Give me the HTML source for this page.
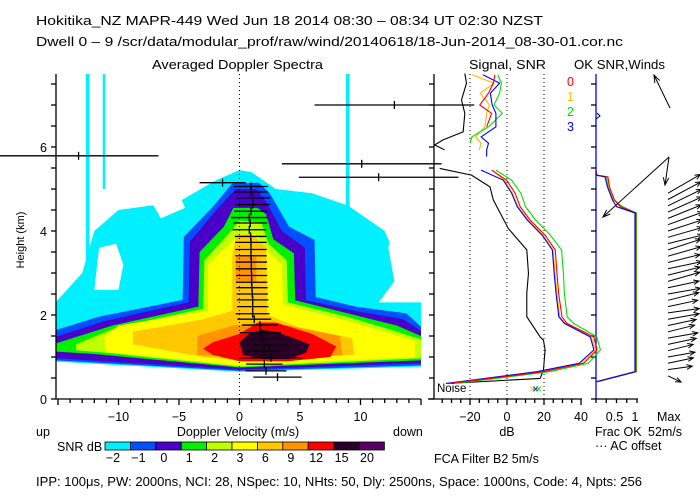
<!DOCTYPE html>
<html><head><meta charset="utf-8">
<style>
html,body{margin:0;padding:0;background:#fff;}
svg{display:block;font-family:"Liberation Sans",sans-serif;}
text{font-size:12.5px;fill:#000;}
</style></head>
<body>
<svg id="c" width="700" height="500" viewBox="0 0 700 500">
<defs><clipPath id="mainClip"><rect x="56" y="74" width="378" height="325"/></clipPath>
<clipPath id="p3Clip"><rect x="596" y="60" width="104" height="340"/></clipPath></defs>
<text x="36" y="25" textLength="507" lengthAdjust="spacingAndGlyphs">Hokitika_NZ   MAPR-449   Wed Jun 18 2014 08:30 – 08:34 UT 02:30 NZST</text>
<text x="36" y="46" textLength="587" lengthAdjust="spacingAndGlyphs">Dwell  0 –  9   /scr/data/modular_prof/raw/wind/20140618/18-Jun-2014_08-30-01.cor.nc</text>
<text x="152" y="69" textLength="171" lengthAdjust="spacingAndGlyphs">Averaged Doppler Spectra</text>
<text x="469" y="69" textLength="77" lengthAdjust="spacingAndGlyphs">Signal, SNR</text>
<text x="574" y="69" textLength="91" lengthAdjust="spacingAndGlyphs">OK  SNR,Winds</text>
<text x="567" y="86" style="fill:#f00">0</text>
<text x="567" y="101" style="fill:#fb0">1</text>
<text x="567" y="116" style="fill:#0d0">2</text>
<text x="567" y="131" style="fill:#00f">3</text>
<g id="heat" clip-path="url(#mainClip)"></g>
<g id="marks"></g>
<text transform="translate(24,240) rotate(-90)" text-anchor="middle" style="font-size:11px">Height (km)</text>
<text x="36" y="436">up</text>
<text x="238" y="436" text-anchor="middle">Doppler Velocity (m/s)</text>
<text x="393" y="436">down</text>
<text x="507" y="436" text-anchor="middle">dB</text>
<text x="595" y="436">Frac OK</text>
<text x="595" y="450">··· AC offset</text>
<text x="657" y="421">Max</text>
<text x="648" y="436">52m/s</text>
<text x="57" y="451">SNR dB</text>
<text x="434" y="463">FCA Filter B2   5m/s</text>
<text x="36" y="486" textLength="606" lengthAdjust="spacingAndGlyphs">IPP: 100μs,  PW: 2000ns,  NCI:  28,  NSpec: 10, NHts: 50,  Dly: 2500ns,  Space: 1000ns,  Code: 4,  Npts: 256</text>
</svg>
<script>
// ---- data ----
const cbColors = ['#00f0ff','#0050ff','#4a00c8','#00f000','#c0ff00','#ffff00','#ffc800','#ff9400','#ff0000','#2a0028','#5a0064'];
const cbLabels = ['−2','−1','0','1','2','3','6','9','12','15','20'];
const xTickLabels = [-10,-5,0,5,10];
const yTickLabels = [0,2,4,6];
const dbTickLabels = [-20,0,20,40];
const fracTickLabels = [0.5,1];
// heatmap contour polygons [velocity, height]
const lvlCyan = [[-15.2,0.89],[0,0.65],[15,0.77],[15,2.4],[13.5,3.0],[12,4.0],[9,4.6],[6,4.9],[3,5.0],[1,5.4],[0,5.45],[-2,5.2],[-5,4.7],[-10,4.5],[-12,4.0],[-13,3.0],[-15.2,2.3]];
const holeA = [[-12,2.6],[-10,2.6],[-9.6,3.2],[-10.2,3.7],[-11.6,3.6]];
const holeB = [[-15.2,2.3],[-13.5,2.9],[-12.8,3.8],[-12.5,4.6],[-15.2,4.6]];
const holeC = [[11.5,2.3],[15.2,2.3],[15.2,4.6],[13,4.6],[12.3,3.6],[12.8,2.8]];
const holeD = [[-6.5,4.3],[-4.5,4.55],[-5,4.9],[-7.5,4.8]];
const lvlBlue = [[-15.2,0.92],[0,0.67],[15,0.8],[15,1.72],[13.8,2.04],[9.6,2.2],[6.3,2.43],[6.2,3.79],[4.1,4.1],[2.5,4.9],[1.6,5.15],[-0.6,5.13],[-2.2,4.58],[-4.6,3.86],[-4.7,2.36],[-11.6,1.96],[-15.2,1.64]];
const lvlPurple = [[-15.2,0.97],[0,0.7],[15,0.85],[15,1.62],[13.5,1.9],[9.5,2.1],[5.5,2.35],[5.4,3.6],[3.5,4.0],[2.2,4.7],[1.4,5.0],[-0.3,5.0],[-1.9,4.5],[-4.1,3.75],[-4.2,2.3],[-11.2,1.85],[-15.2,1.48]];
const lvlGreen = [[-15.2,1.13],[-12,1.07],[0,0.75],[15,0.92],[15,1.5],[13,1.75],[9.5,2.0],[4.6,2.35],[4.5,3.47],[2.8,3.8],[2.2,4.4],[1.5,4.55],[-0.5,4.55],[-1.3,4.1],[-3.3,3.5],[-3.4,2.2],[-10.5,1.75],[-15.2,1.32]];
const lvlLime = [[-13.5,1.16],[-11,1.1],[0,0.77],[15,0.97],[15,1.42],[12.5,1.65],[9,1.95],[4.0,2.3],[3.9,3.3],[2.4,3.7],[1.8,4.2],[0,4.25],[-1.0,3.9],[-2.9,3.3],[-3.0,2.15],[-10,1.72],[-13.5,1.3]];
const lvlYellow = [[-11,1.12],[0,0.8],[14.5,1.0],[14.5,1.38],[12,1.6],[9,1.85],[3.6,2.25],[3.5,3.2],[2,3.6],[1.3,3.94],[0,3.94],[-0.8,3.7],[-2.6,3.2],[-2.6,2.1],[-10,1.75],[-11.2,1.45]];
const lvlGold = [[-8.8,1.3],[-3,1.0],[0,0.92],[9.5,1.05],[9.3,1.45],[5,1.7],[2.3,2.0],[2.2,3.6],[1,3.94],[-0.3,3.9],[-0.6,3.4],[-0.6,2.1],[-3,1.9],[-8.8,1.6]];
const lvlOrange = [[-3.5,1.05],[2,0.95],[8.5,1.05],[8.3,1.5],[4,1.75],[1.5,1.8],[-0.5,1.75],[-3.5,1.5]];
const lvlOrange2 = [[-0.3,3.4],[1.4,3.4],[1.4,2.8],[-0.3,2.8]];
const lvlRed = [[-2.2,1.35],[-3,1.2],[-2.2,1.05],[0,0.9],[4,0.9],[7.5,1.0],[8,1.25],[6,1.55],[3,1.82],[1.5,1.82],[0,1.55]];
const lvlDark = [[0,1.35],[0.3,1.05],[2,0.95],[4,0.95],[5.5,1.1],[5.8,1.3],[4.5,1.45],[3,1.6],[1.8,1.65],[0.8,1.55]];
// cyan noise stripes [vLeft, vRight, hBottom, hTop]
const stripes = [[-12.7,-12.4,2.0,7.75],[-11.3,-11.1,5.0,7.75],[8.8,9.1,2.25,7.75]];
// error bars: height, center velocity, half width (m/s)
const ebH = [7.0,5.79,5.6,5.28,5.15,5.06,4.93,4.79,4.63,4.47,4.32,4.19,4.03,3.87,3.73,3.56,3.41,3.26,3.1,2.94,2.78,2.65,2.5,2.36,2.2,2.03,1.9,1.76,1.58,1.42,1.28,1.14,0.98,0.83,0.67,0.52];
const ebV = [12.8,-13.3,10.1,11.5,-1.4,0.95,0.95,1.14,1.09,0.95,0.81,0.89,0.81,0.92,0.95,0.95,0.95,0.98,0.98,1.0,1.0,1.03,1.06,1.09,1.09,1.09,1.22,1.7,1.72,1.92,2.47,2.05,2.6,2.05,2.19,3.14];
const ebW = [6.6,6.6,6.6,6.6,1.9,1.4,1.4,1.4,1.4,1.4,1.5,1.4,1.4,1.3,1.3,1.3,1.3,1.3,1.3,1.3,1.3,1.3,1.3,1.3,1.3,1.4,1.4,1.5,1.7,1.5,1.7,1.5,2.6,1.5,1.7,2.0];
// signal panel
const sigTopH = [7.75,7.52,7.12,6.8,6.36,6.17,6.05,5.93];
const sigTopDB = [-22.8,-21.9,-24.6,-22.8,-23.7,-34.6,-39.1,-33.7];
const sigH = [5.49,5.33,5.05,4.74,4.06,3.55,2.99,2.52,1.96,1.48,1.4,1.17,0.69,0.49,0.37];
const sigDB = [-36.4,-19.2,-9.2,-7.4,0.7,10.7,11.6,10.7,10.7,17.9,19.7,20.6,19.7,17.9,-31.9];
const snrH = [5.45,5.21,4.9,4.58,4.26,3.9,3.55,2.99,2.52,1.96,1.8,1.48,1.17,0.85,0.65,0.41,0.37];
const snr0 = [-8.3,-0.2,4.4,7.1,12.5,20.6,26.1,27,27.9,29.7,32.4,46.9,48.7,41.4,19.7,-23.7,-31];
const snr1 = [-8,-1.5,3,6,11.5,19.5,25,26,27,28.5,31.5,45.5,48,40,17,-25,-32];
const snr2 = [-6,2.5,7.5,10,15.5,23.5,29.5,30.5,31,32.5,36,48.5,50.5,44,23,-20,-30];
const snr3 = [-14,-2,2.5,5.5,11,19,24.5,25.5,26.5,28,31,45,47,39,16,-26,-33];
const topH = [7.72,7.52,7.28,7.0,6.8,6.48,6.24,6.09,5.93,5.77];
const top0 = [-6.5,-7.4,-10,-14.7,-8.3,-11];
const top1 = [-19,-7,-14.5,-9.5,-11,-12,-17,-14,-15];
const top2 = [-5,-3,-4,-7,-2.5,-10,-19,-20];
const top3 = [-13,-4,-9,-8,-6,-6,-14,-10,-11,-11];
// OK fraction panel
const fracH = [5.45,5.33,5.29,5.05,4.74,4.58,4.43,4.31,0.65,0.41];
const frac0 = [0,0.02,0.29,0.33,0.45,0.6,0.97,0.97,0.97,0.02];
const frac1 = [0,0.02,0.27,0.32,0.44,0.58,0.97,0.97,0.97,0.03];
const frac2 = [0,0.02,0.25,0.3,0.42,0.65,0.99,0.99,0.99,0.05];
const frac3 = [0,0.0,0.22,0.28,0.4,0.5,0.95,0.95,0.95,0.0];
// winds: height (km), speed (m/s), direction angle (deg above east)
const windH = [0.55,0.7,0.85,1.0,1.15,1.3,1.45,1.6,1.75,1.9,2.05,2.2,2.35,2.5,2.65,2.8,2.95,3.1,3.25,3.4,3.55,3.7,3.85,4.0,4.15,4.3,4.45,4.6,4.75,4.9];
const windS = [20,34,36,38,36,40,42,38,40,44,44,42,44,46,44,46,46,48,46,48,48,50,50,50,52,50,52,52,52,52];
const windA = [-25,8,12,10,14,12,10,14,12,10,8,12,14,10,12,16,14,12,14,16,18,14,16,18,20,22,24,26,28,30];

// ---- scales ----
const xV = v => 239.5 + v*12.1;
const yH = h => 399 - h*42;
const xDB = d => 507 + d*1.85;
const xF = f => 596 + f*41;
const NS='http://www.w3.org/2000/svg';
const heat=document.getElementById('heat'), marks=document.getElementById('marks');
function mk(tag, attrs, parent){const e=document.createElementNS(NS,tag);for(const k in attrs)e.setAttribute(k,attrs[k]);(parent||marks).appendChild(e);return e;}

// heatmap
const levels=[[lvlCyan,0,'contour-snr-m2'],[holeA,-1,'noise-gap'],[holeB,-1,'noise-gap'],[holeC,-1,'noise-gap'],[holeD,-1,'noise-gap'],[lvlBlue,1,'contour-snr-m1'],[lvlPurple,2,'contour-snr-0'],[lvlGreen,3,'contour-snr-1'],[lvlLime,4,'contour-snr-2'],[lvlYellow,5,'contour-snr-3'],[lvlGold,6,'contour-snr-6'],[lvlOrange,7,'contour-snr-9'],[lvlOrange2,7,'contour-snr-9-upper'],[lvlRed,8,'contour-snr-12'],[lvlDark,9,'contour-snr-15']];
levels.forEach(L=>{const p=mk('polygon',{points:L[0].map(q=>xV(q[0])+','+yH(q[1])).join(' '),fill:L[1]<0?'#fff':cbColors[L[1]]},heat);

});
stripes.forEach(s=>{const r=mk('rect',{x:xV(s[0]),y:yH(s[3]),width:xV(s[1])-xV(s[0]),height:yH(s[2])-yH(s[3]),fill:cbColors[0]},heat);

});

// zero line
const z=mk('line',{x1:xV(0),x2:xV(0),y1:74,y2:399,stroke:'#000','stroke-dasharray':'1,3'});


[-20,0,20].forEach(d=>{const l=mk('line',{x1:xDB(d),x2:xDB(d),y1:74,y2:399,stroke:'#000','stroke-dasharray':'1,3'});

});

// axes
function line(x1,y1,x2,y2,name,col){const l=mk('line',{x1,y1,x2,y2,stroke:col||'#000','stroke-width':1.3});

return l;}
line(56,74,56,399,'main-y-axis');line(434,74,434,399,'signal-y-axis');line(596,74,596,399,'frac-y-axis','#00f');
line(56,399,421,399,'main-x-axis');line(428,399,582,399,'db-x-axis');line(596,399,638,399,'frac-x-axis');
for(let h=0;h<=7.5;h+=0.5){line(51,yH(h),56,yH(h),'y-tick');line(429,yH(h),434,yH(h),'y-tick');line(591,yH(h),596,yH(h),'y-tick');}
yTickLabels.forEach(h=>{const t=mk('text',{x:47,y:yH(h)+5,'text-anchor':'end'});t.textContent=h;

});
for(let v=-15;v<=15;v++){line(xV(v),399,xV(v),v%5===0?405:403,'x-tick');}
xTickLabels.forEach(v=>{const t=mk('text',{x:xV(v),y:421,'text-anchor':'middle'});t.textContent=v===0?'0':(v<0?'−'+(-v):v);

});
for(let d=-35;d<=40;d+=5){line(xDB(d),399,xDB(d),d%20===0?405:403,'db-tick');}
dbTickLabels.forEach(d=>{const t=mk('text',{x:xDB(d),y:421,'text-anchor':'middle'});t.textContent=d<0?'−'+(-d):d;

});
[0,0.25,0.5,0.75,1].forEach(f=>line(xF(f),399,xF(f),403,'frac-tick'));
fracTickLabels.forEach(f=>{const t=mk('text',{x:xF(f)-2,y:421,'text-anchor':'middle'});t.textContent=f;

});

// error bars
ebH.forEach((h,i)=>{const y=yH(h),c=xV(ebV[i]),w=ebW[i]*12.1;
const g=mk('g',{});


mk('line',{x1:c-w,x2:c+w,y1:y,y2:y,stroke:'#000','stroke-width':1.3},g);
mk('line',{x1:c,x2:c,y1:y-4,y2:y+4,stroke:'#000','stroke-width':1.3},g);});

// polylines
function pl(hs,vals,fx,col,name){const p=mk('polyline',{points:vals.map((v,i)=>fx(v)+','+yH(hs[i])).join(' '),fill:'none',stroke:col,'stroke-width':1.1});

return p;}
pl(sigTopH,sigTopDB,xDB,'#000','signal-upper');
pl(sigH,sigDB,xDB,'#000','signal-line');
const sc=['#ff0000','#ffb400','#00e000','#0000ff'];
[[snr1,top1],[snr2,top2],[snr3,top3],[snr0,top0]].forEach((s,k)=>{const idx=[1,2,3,0][k];
pl(snrH,s[0],xDB,sc[idx],'snr-beam-'+idx);
pl(topH.slice(0,s[1].length),s[1],xDB,sc[idx],'snr-upper-beam-'+idx);});
const nt=mk('text',{x:437,y:392,style:'font-size:11.5px'});nt.textContent='Noise';


[[14,'#ffb400'],[15.5,'#0000ff'],[17,'#00e000']].forEach(m=>{const t=mk('text',{x:xDB(m[0]),y:393,'text-anchor':'middle',style:'fill:'+m[1]+';font-size:12px'});t.textContent='×';

});

// frac panel
const fracBlack=mk('polyline',{points:'596,119 600,116 597,113',fill:'none',stroke:'#000'});


[[frac2,2],[frac1,1],[frac0,0],[frac3,3]].forEach(f=>pl(fracH,f[0],xF,sc[f[1]],'frac-ok-beam-'+f[1]));

// winds
const wg=mk('g',{'clip-path':'url(#p3Clip)'});


windH.forEach((h,i)=>{const a=windA[i]*Math.PI/180,L=windS[i]*0.72,x0=668,y0=yH(h),x1=x0+L*Math.cos(a),y1=y0-L*Math.sin(a);
const g=mk('g',{},wg);


mk('line',{x1:x0,y1:y0,x2:x1,y2:y1,stroke:'#000','stroke-width':1},g);
const b1=a+Math.PI-0.4,b2=a+Math.PI+0.4;
mk('polyline',{points:(x1+6*Math.cos(b1))+','+(y1-6*Math.sin(b1))+' '+x1+','+y1+' '+(x1+6*Math.cos(b2))+','+(y1-6*Math.sin(b2)),fill:'none',stroke:'#000'},g);});
const ex=[[670,108,654,75],[669,157,603,217],[669,157,665,185]];
ex.forEach(e=>{const g=mk('g',{});


mk('line',{x1:e[0],y1:e[1],x2:e[2],y2:e[3],stroke:'#000'},g);
const a=Math.atan2(e[3]-e[1],e[2]-e[0]);
mk('polyline',{points:(e[2]-8*Math.cos(a-0.35))+','+(e[3]-8*Math.sin(a-0.35))+' '+e[2]+','+e[3]+' '+(e[2]-8*Math.cos(a+0.35))+','+(e[3]-8*Math.sin(a+0.35)),fill:'none',stroke:'#000'},g);});

// colorbar
cbColors.forEach((c,i)=>{const r=mk('rect',{x:105+i*25.4,y:442,width:25.4,height:8,fill:c,stroke:'#000','stroke-width':0.8});


const t=mk('text',{x:105+i*25.4+8,y:462,'text-anchor':'middle'});t.textContent=cbLabels[i];

});
</script>
</body></html>
